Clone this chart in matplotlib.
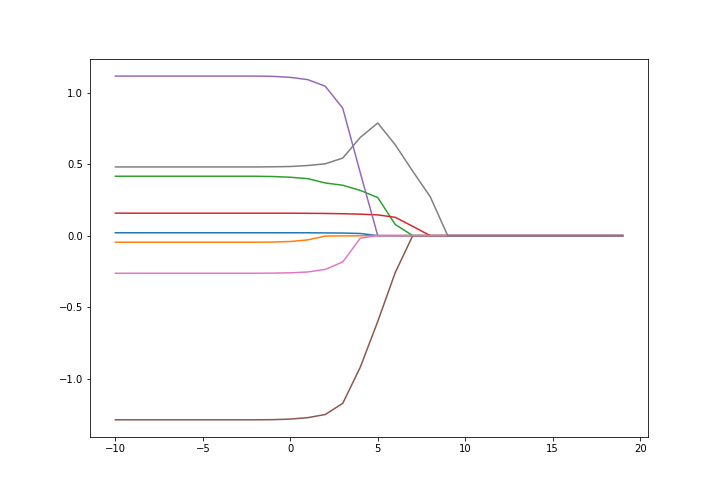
import matplotlib
matplotlib.use("Agg")
import matplotlib.pyplot as plt
import numpy as np

x = list(range(-10, 20))

# values for x = -10 .. 19
s0 = [0.020] * 10 + [0.020, 0.020, 0.019, 0.018, 0.015, 0.0] + [0.0] * 14
s1 = [-0.046] * 9 + [-0.045, -0.041, -0.030, -0.003, -0.002, -0.001, 0.0] + [0.0] * 14
s2 = [0.415] * 9 + [0.413, 0.408, 0.398, 0.368, 0.352, 0.316, 0.266, 0.078, 0.0] + [0.0] * 12
s3 = [0.157] * 10 + [0.157, 0.156, 0.155, 0.153, 0.150, 0.145, 0.128, 0.065, 0.0] + [0.0] * 11
s4 = [1.115] * 9 + [1.113, 1.106, 1.090, 1.044, 0.890, 0.440, 0.0] + [0.0] * 14
s5 = [-1.287] * 9 + [-1.286, -1.282, -1.272, -1.250, -1.172, -0.920, -0.600, -0.258, 0.0] + [0.0] * 12
s6 = [-0.263] * 9 + [-0.262, -0.260, -0.254, -0.236, -0.184, -0.018, 0.0] + [0.0] * 14
s7 = [0.480] * 9 + [0.481, 0.483, 0.490, 0.502, 0.542, 0.686, 0.787, 0.635, 0.450, 0.272, 0.0] + [0.0] * 10

series = [s0, s1, s2, s3, s4, s5, s6, s7]

fig, ax = plt.subplots(figsize=(10, 6.82), dpi=72)
for s in series:
    ax.plot(x, s)
fig.savefig("out.png", dpi=72)
